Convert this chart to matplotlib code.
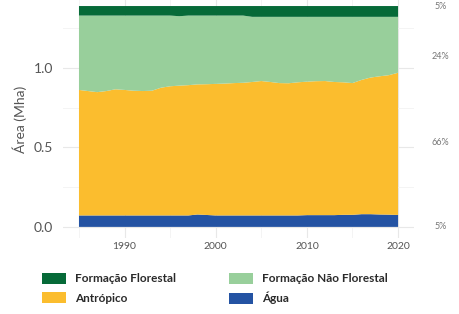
import matplotlib
matplotlib.use("Agg")
import matplotlib.pyplot as plt
import matplotlib.transforms as mtransforms
from matplotlib.patches import Patch

years = list(range(1985, 2021))
agua = [0.072]*13 + [0.078, 0.075] + [0.072]*10 + [0.074, 0.074, 0.074, 0.074,
        0.076, 0.076, 0.080, 0.080, 0.078, 0.077, 0.075]
antropico = [0.790, 0.783, 0.776, 0.783, 0.794, 0.790, 0.785, 0.783, 0.785, 0.804,
             0.813, 0.817, 0.820, 0.819, 0.823, 0.828, 0.830, 0.833, 0.835, 0.840,
             0.846, 0.840, 0.833, 0.832, 0.838, 0.840, 0.843, 0.844, 0.838, 0.834,
             0.829, 0.845, 0.860, 0.870, 0.878, 0.895]
nao_florestal = [0.468, 0.475, 0.482, 0.475, 0.464, 0.468, 0.473, 0.475, 0.473, 0.454,
                 0.445, 0.437, 0.438, 0.433, 0.432, 0.430, 0.428, 0.425, 0.423, 0.410,
                 0.404, 0.410, 0.417, 0.418, 0.412, 0.408, 0.405, 0.404, 0.410, 0.412,
                 0.417, 0.397, 0.382, 0.374, 0.367, 0.352]
florestal = [0.060]*11 + [0.064] + [0.060]*7 + [0.068]*17

labels = ["Água", "Antrópico", "Formação Não Florestal", "Formação Florestal"]
colors = ["#2453a3", "#fbbd2e", "#98cf9b", "#066a38"]
pct_labels = ["5%", "66%", "24%", "5%"]
pct_y = [0.005, 0.53, 1.075, 1.385]

plt.rcParams['font.family'] = ['Lato', 'DejaVu Sans']

fig = plt.figure(figsize=(4.6, 3.14), dpi=100)
ax = fig.add_axes([0.137, 0.242, 0.763, 0.758])

ax.stackplot(years, agua, antropico, nao_florestal, florestal, colors=colors,
             linewidth=0, zorder=2)

ax.set_xlim(1983.25, 2021.75)
ax.set_ylim(-0.07, 1.428)
ax.set_xticks([1990, 2000, 2010, 2020])
ax.set_xticks([1985, 1995, 2005, 2015], minor=True)
ax.set_yticks([0.0, 0.5, 1.0])
ax.set_yticklabels(["0.0", "0.5", "1.0"])
ax.set_yticks([0.25, 0.75, 1.25], minor=True)
ax.grid(True, which='major', color='#e8e8e8', linewidth=0.8, zorder=0)
ax.grid(True, which='minor', color='#f2f2f2', linewidth=0.6, zorder=0)
for s in ax.spines.values():
    s.set_visible(False)
ax.tick_params(which='both', length=0)
ax.tick_params(axis='y', labelsize=10, labelcolor='#555555', pad=7)
ax.tick_params(axis='x', labelsize=7.5, labelcolor='#555555', pad=3)
ax.set_ylabel("Área (Mha)", fontsize=10, color='#555555', labelpad=5)

trans = mtransforms.blended_transform_factory(fig.transFigure, ax.transData)
for t, y in zip(pct_labels, pct_y):
    ax.text(0.957, y, t, transform=trans, ha='center', va='center',
            fontsize=6.5, color='#777777', clip_on=False)

handles = [Patch(facecolor=colors[3], label=labels[3]),
           Patch(facecolor=colors[1], label=labels[1]),
           Patch(facecolor=colors[2], label=labels[2]),
           Patch(facecolor=colors[0], label=labels[0])]
fig.legend(handles=handles, ncol=2, loc='upper left', bbox_to_anchor=(0.08, 0.147),
           frameon=False, handlelength=2.1, handleheight=1.1,
           handletextpad=0.7, columnspacing=4.5, labelspacing=0.65,
           borderaxespad=0, prop={'weight': 'bold', 'size': 8.5})
for txt in fig.legends[0].get_texts():
    txt.set_color('#2a2a2a')

fig.savefig("out.png", dpi=100)
